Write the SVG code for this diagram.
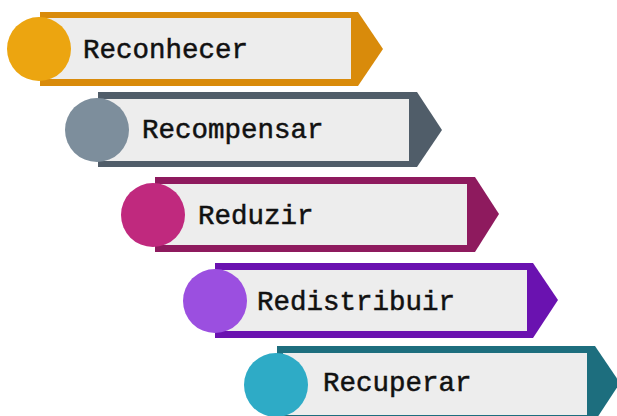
<svg xmlns="http://www.w3.org/2000/svg" width="617" height="416" viewBox="0 0 617 416">
  <style>
    .panel { fill: #ededed; }
    .label { font-family: "Liberation Mono", "DejaVu Sans Mono", monospace; font-size: 27.5px; fill: #111111; stroke: #111111; stroke-width: 0.5px; }
  </style>
  <rect width="617" height="416" fill="#ffffff"/>

  <!-- Step 1 -->
  <g id="step-reconhecer">
    <polygon points="40,12 358,12 383,49 358,86 40,86" fill="#d98b0b"/>
    <rect class="panel" x="46" y="18" width="305" height="61"/>
    <circle cx="39" cy="49" r="32" fill="#eca510"/>
    <text class="label" x="83" y="58">Reconhecer</text>
  </g>

  <!-- Step 2 -->
  <g id="step-recompensar">
    <polygon points="98,92 417,92 442,130 417,167 98,167" fill="#505d69"/>
    <rect class="panel" x="104" y="99" width="305" height="62"/>
    <circle cx="97" cy="130" r="32" fill="#7d8e9c"/>
    <text class="label" x="142" y="138">Recompensar</text>
  </g>

  <!-- Step 3 -->
  <g id="step-reduzir">
    <polygon points="155,177 475,177 499,214 475,252 155,252" fill="#8e1a5e"/>
    <rect class="panel" x="161" y="184" width="306" height="61"/>
    <circle cx="153" cy="215" r="32" fill="#c0297e"/>
    <text class="label" x="198" y="224">Reduzir</text>
  </g>

  <!-- Step 4 -->
  <g id="step-redistribuir">
    <polygon points="215,263 533,263 558,300 533,338 215,338" fill="#6a12b0"/>
    <rect class="panel" x="221" y="270" width="306" height="61"/>
    <circle cx="215" cy="301" r="32" fill="#9b4fe0"/>
    <text class="label" x="257" y="310">Redistribuir</text>
  </g>

  <!-- Step 5 -->
  <g id="step-recuperar">
    <polygon points="277,346 595,346 620,383 595,421 277,421" fill="#1d6e7e"/>
    <rect class="panel" x="283" y="353" width="304" height="62"/>
    <circle cx="276" cy="385" r="32" fill="#2eabc6"/>
    <text class="label" x="323" y="391">Recuperar</text>
  </g>

  <g id="connectors"/>
</svg>
